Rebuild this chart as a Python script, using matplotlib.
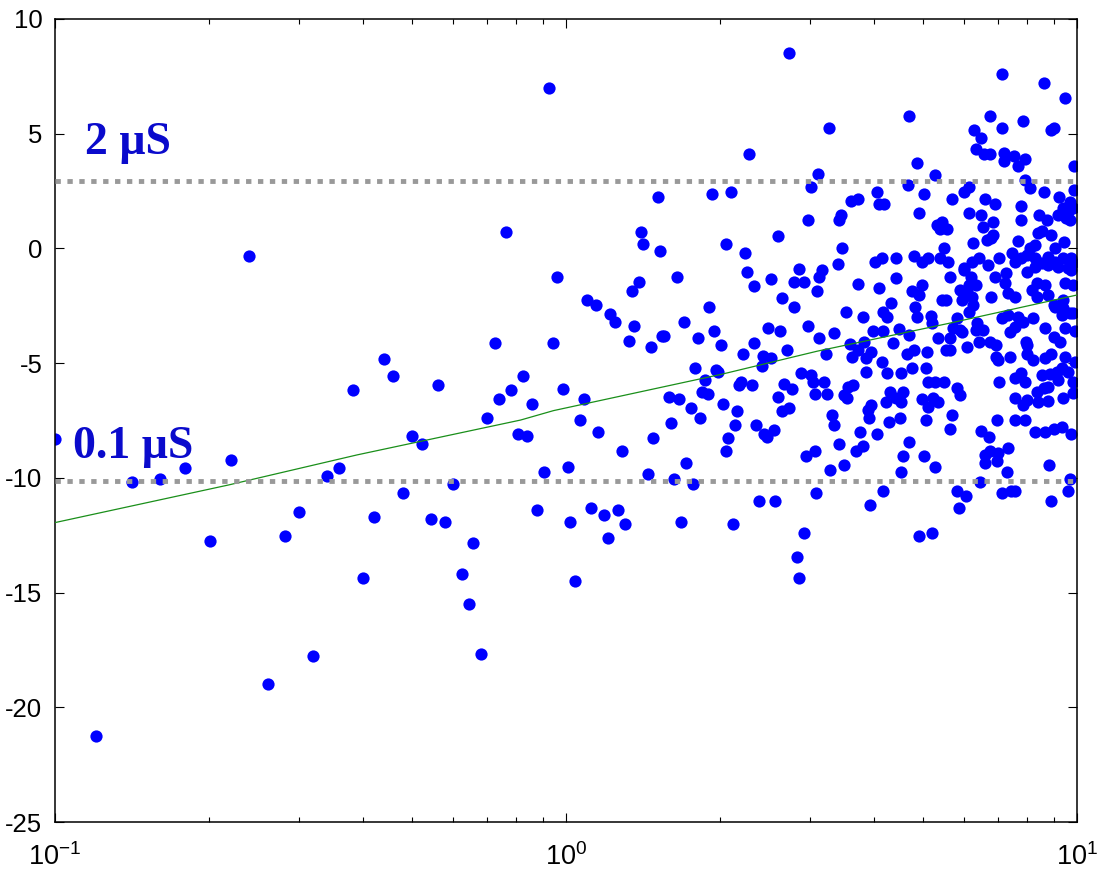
import matplotlib
matplotlib.use('Agg')
import matplotlib.pyplot as plt
from matplotlib.ticker import LogLocator, MultipleLocator, NullFormatter

plt.rcParams['font.family'] = ['Liberation Sans', 'DejaVu Sans']
plt.rcParams['mathtext.default'] = 'regular'
plt.rcParams['axes.unicode_minus'] = False

# scatter points (x, y), grouped by x range
pts_low = [
    (0.100, -8.32), (0.1205, -21.26), (0.1416, -10.17), (0.1605, -10.07), (0.180, -9.56),
    (0.2007, -12.74), (0.2207, -9.24), (0.240, -0.32), (0.2614, -19.0), (0.2816, -12.54),
    (0.3007, -11.50), (0.3196, -17.78), (0.3405, -9.94), (0.360, -9.56), (0.383, -6.16),
    (0.400, -14.38), (0.421, -11.72), (0.440, -4.83), (0.459, -5.55), (0.479, -10.68),
    (0.500, -8.19), (0.522, -8.51), (0.545, -11.81), (0.562, -5.97), (0.580, -11.91),
    (0.600, -10.27), (0.625, -14.18), (0.645, -15.51), (0.659, -12.84), (0.681, -17.67),
    (0.702, -7.39), (0.725, -4.11), (0.741, -6.57), (0.764, 0.73), (0.782, -6.16),
    (0.806, -8.10), (0.823, -5.55), (0.837, -8.19), (0.858, -6.78), (0.878, -11.40),
    (0.905, -9.75), (0.926, 6.98), (0.944, -4.11), (0.96, -1.23), (0.985, -6.14),
]

pts_mid = [
    (1.008, -9.54), (1.02, -11.91), (1.041, -14.49), (1.065, -7.49), (1.086, -6.57),
    (1.099, -2.26), (1.121, -11.30), (1.145, -2.47), (1.157, -8.0), (1.186, -11.62),
    (1.208, -12.64), (1.221, -2.87), (1.249, -3.19), (1.262, -11.40), (1.287, -8.83),
    (1.302, -12.01), (1.328, -4.02), (1.344, -1.84), (1.359, -3.38), (1.388, -1.45),
    (1.402, 0.73), (1.415, 0.20), (1.445, -9.85), (1.465, -4.31), (1.478, -8.28),
    (1.511, 2.25), (1.525, -0.10), (1.539, -3.80), (1.555, -3.80), (1.593, -6.46),
    (1.608, -7.60), (1.627, -10.07), (1.646, -1.23), (1.665, -6.57), (1.676, -11.91),
    (1.699, -3.19), (1.715, -9.34), (1.754, -6.97), (1.77, -10.27), (1.791, -5.23),
    (1.81, -3.89), (1.827, -7.38), (1.843, -6.25), (1.867, -5.75), (1.894, -6.36),
    (1.908, -2.57), (1.928, 2.37), (1.951, -3.59), (1.965, -5.30), (1.985, -5.37),
    (2.011, -4.21), (2.032, -6.78), (2.053, 0.20), (2.053, -8.83), (2.075, -8.28),
    (2.10, 2.46), (2.12, -12.01), (2.145, -7.70), (2.164, -7.09), (2.18, -5.95),
    (2.203, -5.81), (2.217, -4.62), (2.237, -0.20), (2.261, -1.02), (2.285, 4.10),
    (2.308, -5.95), (2.333, -1.64), (2.336, -4.11), (2.358, -7.70), (2.387, -11.0),
    (2.415, -5.14), (2.433, -4.68), (2.44, -8.10), (2.47, -8.21), (2.485, -3.48),
    (2.515, -1.32), (2.515, -4.79), (2.55, -7.90), (2.56, -11.0), (2.595, 0.55),
    (2.595, -6.46), (2.627, -3.59), (2.651, -2.15), (2.651, -7.07), (2.675, -5.91),
    (2.711, -4.41), (2.735, 8.53), (2.735, -6.97), (2.764, -6.14), (2.794, -1.45),
    (2.798, -2.57), (2.83, -13.47), (2.858, -14.37), (2.861, -0.91), (2.879, -5.45),
    (2.918, -12.42), (2.923, -1.45), (2.949, -9.04), (2.98, 1.24), (2.98, -3.37),
    (3.012, 2.69), (3.016, -5.52), (3.05, -5.84), (3.07, -8.83), (3.072, -6.36),
    (3.08, -10.68), (3.094, -1.84), (3.118, 3.23), (3.13, -1.23), (3.13, -3.89),
]

pts_high = [
    (3.17, -0.94), (3.20, -5.84), (3.22, -4.62), (3.24, -6.36), (3.276, 5.23),
    (3.29, -9.66), (3.31, -7.26), (3.34, -3.70), (3.34, -7.70), (3.40, -0.69),
    (3.42, 1.24), (3.42, -8.53), (3.46, 1.46), (3.463, 0.0), (3.5, -6.39),
    (3.5, -9.44), (3.53, -2.76), (3.55, -6.53), (3.57, -6.03), (3.6, -4.18),
    (3.61, 2.05), (3.63, -4.72), (3.65, -5.95), (3.70, -8.82), (3.72, -1.55),
    (3.73, 2.15), (3.73, -4.43), (3.76, -8.02), (3.81, -2.98), (3.81, -8.61),
    (3.83, -4.07), (3.86, -4.79), (3.86, -5.37), (3.9, -7.04), (3.92, -7.38),
    (3.94, -11.19), (3.96, -4.53), (3.96, -6.83), (3.99, -3.6), (4.03, -0.61),
    (4.06, 2.46), (4.06, -8.10), (4.09, 1.95), (4.10, -1.74), (4.15, -0.43),
    (4.15, -4.94), (4.17, -10.58), (4.18, -2.79), (4.18, -3.6), (4.19, 1.95),
    (4.23, -6.68), (4.24, -2.98), (4.24, -5.45), (4.29, -7.58), (4.30, -6.25),
    (4.33, -2.37), (4.36, -4.14), (4.42, -0.40), (4.42, -1.30), (4.43, -6.53),
    (4.49, -3.51), (4.51, -7.38), (4.52, -5.45), (4.53, -6.68), (4.53, -9.75),
    (4.56, -6.25), (4.56, -9.04), (4.65, -4.62), (4.66, 2.76), (4.70, 5.76),
    (4.70, -3.78), (4.70, -8.45), (4.75, -1.84), (4.75, -5.23), (4.80, -0.32),
    (4.80, -4.43), (4.82, -2.54), (4.86, 3.71), (4.86, -2.98), (4.91, 1.54),
    (4.91, -2.03), (4.91, -12.54), (4.97, -0.61), (4.97, -1.60), (4.97, -6.57),
    (5.01, -9.04), (5.02, 2.37), (5.07, -5.23), (5.07, -7.48), (5.09, -4.53),
    (5.12, -0.40), (5.12, -5.81), (5.12, -6.9), (5.19, -2.93), (5.20, -3.27),
    (5.21, -12.42), (5.22, -6.51), (5.28, 3.19), (5.28, -5.81), (5.28, -9.54),
    (5.31, 1.03), (5.34, -6.68), (5.35, -3.92), (5.39, 0.83), (5.39, -0.40),
    (5.45, 1.14), (5.45, -2.25), (5.49, 0.0), (5.50, -5.81), (5.54, -2.25),
    (5.54, -4.43), (5.56, 0.83), (5.60, -0.58), (5.64, -1.23), (5.64, -4.43),
    (5.65, -3.92), (5.65, -7.87), (5.69, 2.15), (5.70, -7.26), (5.73, -3.48),
    (5.82, -3.05), (5.82, -6.1), (5.83, -10.58), (5.88, -11.30), (5.89, -1.81),
    (5.9, -3.56), (5.9, -6.39), (5.96, -2.25), (5.96, -3.63), (6.01, 2.46),
    (6.02, -0.87), (6.02, -0.94), (6.06, -10.78), (6.1, -1.89), (6.1, -4.31),
    (6.14, 2.68), (6.14, 1.54), (6.14, -1.6), (6.14, -2.79), (6.2, -1.23),
    (6.23, -0.58), (6.23, -2.1), (6.27, 0.22), (6.27, -2.47), (6.28, 5.15),
    (6.34, 4.33), (6.34, -1.6), (6.34, -3.56), (6.38, -3.27), (6.42, -0.43),
    (6.42, -4.09), (6.45, -10.17), (6.48, 4.81), (6.48, 1.44), (6.48, -7.96),
    (6.55, 0.93), (6.55, -3.56), (6.58, 4.12), (6.61, -9.01), (6.61, -9.34),
    (6.62, 2.15), (6.66, 0.37), (6.69, -0.72), (6.74, -8.21), (6.76, 5.76),
    (6.76, 4.12), (6.76, -8.82), (6.77, -4.09), (6.8, 0.44), (6.8, -2.13),
    (6.84, 1.14), (6.84, 0.58), (6.9, 1.95), (6.9, -1.23), (6.93, -4.21),
    (6.93, -4.72), (6.97, -7.48), (6.98, -9.25), (7.0, -4.86), (7.0, -8.93),
    (7.05, -0.40), (7.05, -5.84), (7.12, -3.05), (7.12, -10.68), (7.13, 7.60),
    (7.13, 5.23), (7.19, 4.15), (7.2, 3.8), (7.23, -1.52), (7.25, -1.09),
    (7.29, -9.75), (7.32, -1.96), (7.32, -2.9), (7.32, -8.71), (7.38, -3.63),
    (7.38, -4.72), (7.43, -10.58), (7.45, -0.21), (7.53, 4.03), (7.55, -10.58),
    (7.56, -0.58), (7.56, -2.1), (7.56, -3.41), (7.56, -5.66), (7.56, -6.53),
    (7.56, -7.48), (7.67, 3.59), (7.67, 0.32), (7.67, -2.98), (7.76, 1.24),
    (7.77, 1.85), (7.78, -0.43), (7.78, -5.45), (7.83, 5.55), (7.83, -3.19),
    (7.83, -6.83), (7.9, -5.81), (7.9, -7.48), (7.91, 3.91), (7.92, 2.98),
    (7.95, -4.07), (8.0, -0.29), (8.0, -1.02), (8.0, -4.21), (8.0, -4.58),
    (8.0, -6.61), (8.09, 0.0), (8.10, 2.62), (8.15, -1.81), (8.21, -3.05),
    (8.21, -4.86), (8.28, 0.15), (8.28, -0.43), (8.28, -0.80), (8.28, -7.99),
    (8.34, -1.52), (8.34, -2.1), (8.34, -6.25), (8.40, 0.66), (8.4, -6.68),
    (8.44, 1.44), (8.53, 0.76), (8.53, -0.65), (8.53, -5.52), (8.6, -6.1),
    (8.61, 7.20), (8.63, 2.46), (8.64, -4.79), (8.67, -1.6), (8.67, -3.48),
    (8.67, -7.99), (8.75, 1.24), (8.79, -0.36), (8.79, -0.72), (8.79, -2.03),
    (8.79, -6.03), (8.79, -6.65), (8.81, -9.44), (8.84, -5.49), (8.88, 5.15),
    (8.88, -11.0), (8.91, 0.58), (8.91, -4.58), (9.0, 5.23), (9.0, -2.47),
    (9.0, -3.85), (9.0, -7.87), (9.06, 0.0), (9.06, -0.58), (9.06, -2.54),
    (9.13, -5.37), (9.2, 1.46), (9.2, -0.80), (9.2, -5.74), (9.21, 2.25),
    (9.27, -4.07), (9.33, -2.9), (9.33, -5.23), (9.33, -7.77), (9.40, 1.75),
    (9.40, -0.43), (9.40, -2.25), (9.40, -2.61), (9.4, -6.53), (9.42, 0.29),
    (9.46, -1.52), (9.46, -4.72), (9.49, 6.57), (9.49, -3.48), (9.53, 1.31),
    (9.59, -10.58), (9.61, 1.60), (9.61, -0.87), (9.61, -5.37), (9.69, 2.04),
    (9.69, 1.24), (9.69, -2.83), (9.69, -10.05), (9.75, -0.43), (9.75, -0.94),
    (9.75, -8.10), (9.83, 1.75), (9.83, -0.65), (9.83, -1.6), (9.83, -2.83),
    (9.83, -5.81), (9.83, -6.32), (9.88, 3.59), (9.88, 2.56), (9.9, -3.6),
    (9.93, -4.94),
]

# thin green trend curve
trend_x = [0.1, 0.2186, 0.39, 0.815, 0.945, 2.02, 3.1, 5.6, 10.0]
trend_y = [-11.95, -10.31, -9.0, -7.48, -7.07, -5.48, -4.48, -3.27, -2.03]

# dotted reference levels and their labels
levels = [2.94, -10.15]
level_labels = ['2 μS', '0.1 μS']
label_pos = [(0.1146, 4.12), (0.1084, -9.14)]

fig = plt.figure(figsize=(10.99, 8.71), dpi=100)
ax = fig.add_axes([55 / 1099, 49 / 871, 1022 / 1099, 803 / 871])

allpts = pts_low + pts_mid + pts_high
xs = [p[0] for p in allpts]
ys = [p[1] for p in allpts]
ax.plot(xs, ys, 'o', ms=8.8, color='#0000ff', mew=0, zorder=2)
ax.plot(trend_x, trend_y, color='#1a8f1a', lw=0.9, zorder=3)
for lv in levels:
    ax.axhline(lv, color='#999999', lw=3.5, dashes=(1.1, 1.35),
               dash_capstyle='butt', zorder=4)
for txt, (tx, ty) in zip(level_labels, label_pos):
    ax.text(tx, ty, txt, family=['Liberation Serif', 'DejaVu Serif'],
            fontweight='bold', fontsize=33, color='#0a0acc', va='baseline',
            ha='left', zorder=5)

ax.set_xscale('log')
ax.set_xlim(0.1, 10)
ax.set_ylim(-25, 10)
ax.yaxis.set_major_locator(MultipleLocator(5))
ax.xaxis.set_major_locator(LogLocator(base=10))
ax.xaxis.set_minor_locator(LogLocator(base=10, subs=range(2, 10)))
ax.xaxis.set_minor_formatter(NullFormatter())

for s in ax.spines.values():
    s.set_linewidth(1.1)
ax.tick_params(which='both', direction='in', top=True, right=True, width=0.8)
ax.tick_params(which='major', length=6.5, labelsize=18.5)
ax.tick_params(which='minor', length=3.6)
ax.tick_params(axis='x', which='major', pad=15, labelsize=19.5)
ax.tick_params(axis='y', which='major', pad=9)

fig.savefig('out.png', dpi=100)
